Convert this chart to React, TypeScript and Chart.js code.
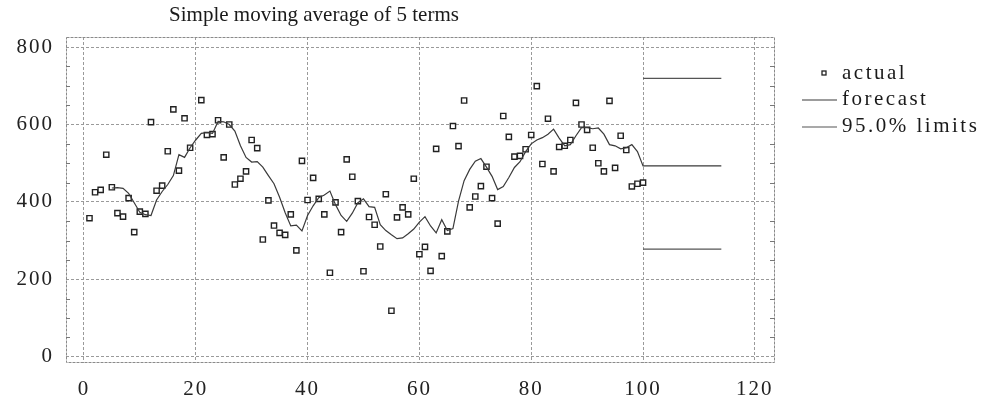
import React, { useEffect, useRef } from "react";
import { Chart, registerables } from "chart.js";

Chart.register(...registerables);

const titleText = "Simple moving average of 5 terms";
const legendLabels = ["actual", "forecast", "95.0% limits"];

const xTicks = [0, 20, 40, 60, 80, 100, 120];
const yTicks = [0, 200, 400, 600, 800];
const yMinorTicks = [50, 100, 150, 250, 300, 350, 450, 500, 550, 650, 700, 750];

const actualX = [
  1, 2, 3, 4, 5, 6, 7, 8, 9, 10, 11, 12, 13, 14, 15, 16, 17, 18, 19, 20,
  21, 22, 23, 24, 25, 26, 27, 28, 29, 30, 31, 32, 33, 34, 35, 36, 37, 38, 39, 40,
  41, 42, 43, 44, 45, 46, 47, 48, 49, 50, 51, 52, 53, 54, 55, 56, 57, 58, 59, 60,
  61, 62, 63, 64, 65, 66, 67, 68, 69, 70, 71, 72, 73, 74, 75, 76, 77, 78, 79, 80,
  81, 82, 83, 84, 85, 86, 87, 88, 89, 90, 91, 92, 93, 94, 95, 96, 97, 98, 99, 100,
];
const actualY = [
  358, 425, 431, 522, 438, 371, 362, 410, 322, 375, 369, 606, 429, 442, 531, 639, 481, 616, 540, null,
  663, 573, 575, 611, 515, 600, 445, 460, 479, 560, 539, 303, 404, 339, 320, 315, 368, 275, 506, 405,
  462, 408, 368, 217, 399, 322, 510, 465, 402, 221, 361, 341, 285, 420, 119, 360, 386, 368, 460, 265,
  284, 222, 537, 260, 324, 596, 544, 662, 386, 414, 441, 491, 410, 344, 622, 568, 517, 519, 536, 573,
  699, 498, 615, 479, 542, 545, 560, 656, 600, 586, 540, 500, 479, 661, 488, 571, 534, 440, 447, 450,
];

const forecastX = [
  5, 6, 7, 8, 9, 10, 11, 12, 13, 14, 15, 16, 17, 18, 19, 20,
  21, 22, 23, 24, 25, 26, 27, 28, 29, 30, 31, 32, 33, 34, 35, 36, 37, 38, 39, 40,
  41, 42, 43, 44, 45, 46, 47, 48, 49, 50, 51, 52, 53, 54, 55, 56, 57, 58, 59, 60,
  61, 62, 63, 64, 65, 66, 67, 68, 69, 70, 71, 72, 73, 74, 75, 76, 77, 78, 79, 80,
  81, 82, 83, 84, 85, 86, 87, 88, 89, 90, 91, 92, 93, 94, 95, 96, 97, 98, 99, 100, 114,
];
const forecastY = [
  436, 437, 435, 422, 398, 373, 367, 365, 405, 427, 445, 468, 522, 515, 540, 560,
  577, 579, 577, 608, 607, 600, 583, 545, 515, 503, 504, 490, 468, 447, 412, 372, 338, 340, 325, 365,
  390, 411, 418, 428, 393, 365, 350, 371, 398, 408, 388, 386, 341, 326, 315, 305, 307, 318, 330, 348,
  362, 338, 320, 354, 326, 331, 402, 455, 484, 505, 512, 490, 466, 432, 440, 463, 489, 504, 530, 550,
  560, 566, 575, 588, 565, 545, 548, 571, 592, 592, 589, 591, 575, 548, 545, 537, 540, 548, 530, 493, 493,
];

const limitX = [100, 114];
const upperLimit = [719, 719];
const lowerLimit = [278, 278];

const FONT = "'Liberation Serif', 'Times New Roman', serif";

const pts = (xs: number[], ys: (number | null)[]) =>
  xs.map((x, i) => ({ x, y: ys[i] }));

const decorPlugin = {
  id: "decor",
  beforeDraw(chart: any) {
    chart.ctx.letterSpacing = "2px";
  },
  beforeDatasetsDraw(chart: any) {
    const { ctx, chartArea: a, scales } = chart;
    ctx.save();
    ctx.letterSpacing = "0px";
    ctx.strokeStyle = "#8a8a8a";
    ctx.lineWidth = 1;
    ctx.setLineDash([3, 1]);
    ctx.strokeRect(a.left + 0.5, a.top + 0.5, a.right - a.left - 1, a.bottom - a.top - 1);
    ctx.setLineDash([]);
    ctx.strokeStyle = "#777";
    ctx.beginPath();
    for (const v of yMinorTicks) {
      const y = Math.round(scales.y.getPixelForValue(v)) + 0.5;
      ctx.moveTo(a.left, y);
      ctx.lineTo(a.left + 4, y);
      ctx.moveTo(a.right - 5, y);
      ctx.lineTo(a.right, y);
    }
    ctx.stroke();
    ctx.restore();
  },
  afterDraw(chart: any) {
    const { ctx } = chart;
    ctx.save();
    ctx.letterSpacing = "0px";
    ctx.fillStyle = "#1a1a1a";
    ctx.font = `21px ${FONT}`;
    ctx.textAlign = "center";
    ctx.textBaseline = "middle";
    ctx.fillText(titleText, 314, 15);
    ctx.letterSpacing = "2.5px";
    ctx.textAlign = "left";
    const rows = [73, 99, 126];
    ctx.fillText(legendLabels[0], 842, rows[0]);
    ctx.fillText(legendLabels[1], 842, rows[1]);
    ctx.fillText(legendLabels[2], 842, rows[2]);
    ctx.fillStyle = "#fff";
    ctx.strokeStyle = "#222";
    ctx.lineWidth = 1.3;
    ctx.fillRect(822, 71, 4, 4);
    ctx.strokeRect(822, 71, 4, 4);
    ctx.strokeStyle = "#3a3a3a";
    ctx.lineWidth = 1.2;
    ctx.beginPath();
    ctx.moveTo(802, rows[1] + 1);
    ctx.lineTo(837, rows[1] + 1);
    ctx.stroke();
    ctx.strokeStyle = "#555";
    ctx.beginPath();
    ctx.moveTo(802, rows[2] + 1);
    ctx.lineTo(837, rows[2] + 1);
    ctx.stroke();
    ctx.restore();
    ctx.letterSpacing = "0px";
  },
};

export default function App() {
  const ref = useRef<HTMLCanvasElement | null>(null);
  useEffect(() => {
    if (!ref.current) return;
    const gridOpts = {
      color: "#9a9a9a",
      lineWidth: 1,
      drawTicks: false,
    };
    const borderOpts = { display: false, dash: [3, 2] };
    const chart = new Chart(ref.current, {
      type: "scatter",
      data: {
        datasets: [
          {
            label: legendLabels[1],
            data: pts(forecastX, forecastY),
            showLine: true,
            borderColor: "#3a3a3a",
            borderWidth: 1.2,
            pointRadius: 0,
            fill: false,
          },
          {
            label: legendLabels[2],
            data: pts(limitX, upperLimit),
            showLine: true,
            borderColor: "#555",
            borderWidth: 1.2,
            pointRadius: 0,
          },
          {
            label: legendLabels[2] + " lower",
            data: pts(limitX, lowerLimit),
            showLine: true,
            borderColor: "#555",
            borderWidth: 1.2,
            pointRadius: 0,
          },
          {
            label: legendLabels[0],
            data: pts(actualX, actualY),
            showLine: false,
            pointStyle: "rect",
            pointRadius: 3.7,
            pointBorderWidth: 1.4,
            pointBorderColor: "#222",
            pointBackgroundColor: "#fff",
          },
        ],
      },
      options: {
        responsive: false,
        animation: false,
        layout: { padding: { top: 37, right: 230, left: 0, bottom: 0 } },
        plugins: {
          legend: { display: false },
          title: { display: false },
          tooltip: { enabled: false },
        },
        scales: {
          x: {
            type: "linear",
            min: -3.2,
            max: 123.6,
            afterBuildTicks: (s: any) => {
              s.ticks = xTicks.map((v) => ({ value: v }));
            },
            afterFit: (s: any) => {
              s.height = 41;
            },
            grid: gridOpts,
            border: borderOpts,
            ticks: {
              padding: 14,
              autoSkip: false,
              maxRotation: 0,
              color: "#222",
              font: { family: FONT, size: 21 },
              callback: (v: any) => String(v),
            },
          },
          y: {
            type: "linear",
            min: -16,
            max: 826,
            afterBuildTicks: (s: any) => {
              s.ticks = yTicks.map((v) => ({ value: v }));
            },
            afterFit: (s: any) => {
              s.width = 66;
            },
            grid: gridOpts,
            border: borderOpts,
            ticks: {
              padding: 12,
              autoSkip: false,
              color: "#222",
              font: { family: FONT, size: 21 },
              callback: (v: any) => String(v),
            },
          },
        },
      } as any,
      plugins: [decorPlugin],
    });
    return () => chart.destroy();
  }, []);
  return (
    <div style={{ position: "fixed", left: 0, top: 0, width: 1005, height: 404, background: "#fff" }}>
      <canvas ref={ref} width={1005} height={404} style={{ width: 1005, height: 404, display: "block" }} />
    </div>
  );
}
